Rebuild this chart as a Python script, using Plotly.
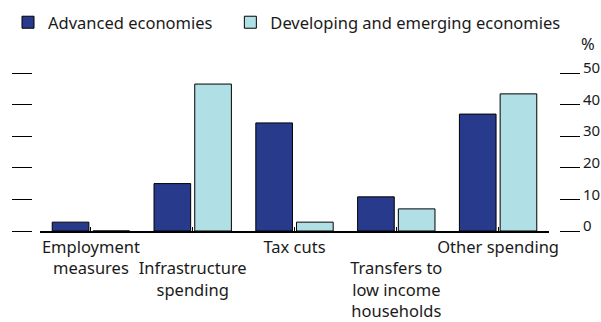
import plotly.graph_objects as go

categories = ["Employment<br>measures", "<br>Infrastructure<br>spending", "Tax cuts",
              "<br>Transfers to<br>low income<br>households", "Other spending"]
series_names = ["Advanced economies", "Developing and emerging economies"]
advanced = [2.8, 15.0, 34.2, 10.8, 37.0]
developing = [0.0, 46.5, 2.8, 7.0, 43.4]
ytick_vals = [0, 10, 20, 30, 40, 50]
ytick_text = ["0", "10", "20", "30", "40", "50"]

FONT = "Noto Sans"
FS = 16.5
W, H = 601, 322
ML, MR, MT, MB = 32, 42, 73, 91
PW = W - ML - MR
PH = H - MT - MB

fig = go.Figure()
fig.add_trace(go.Bar(x=list(range(len(categories))), y=advanced,
                     name=series_names[0] + "\u00a0\u00a0\u00a0",
                     marker=dict(color="#283a8c", line=dict(color="black", width=1))))
fig.add_trace(go.Bar(x=list(range(len(categories))), y=developing, name=series_names[1],
                     marker=dict(color="#b0e0e6", line=dict(color="black", width=1))))
fig.add_trace(go.Scatter(x=[None], y=[None], yaxis="y2", showlegend=False, hoverinfo="skip"))

fig.update_layout(
    width=W, height=H,
    margin=dict(l=ML, r=MR, t=MT, b=MB, pad=0, autoexpand=False),
    paper_bgcolor="white", plot_bgcolor="white",
    font=dict(family=FONT, size=FS, color="#1a1a1a"),
    barmode="group", bargap=0.2, bargroupgap=0.1,
    showlegend=True,
    legend=dict(orientation="h", x=(8 - ML) / PW, xanchor="left",
                y=(231 - 5) / PH, yanchor="top",
                font=dict(size=FS), bgcolor="rgba(0,0,0,0)", traceorder="normal"),
    xaxis=dict(domain=[8 / PW, 517 / PW], range=[-0.5, 4.5], automargin=False,
               tickmode="array", tickvals=list(range(len(categories))), ticktext=categories,
               tickangle=0,
               showline=True, linecolor="black", linewidth=2,
               ticks="inside", tickson="boundaries", ticklen=4, tickcolor="black", tickwidth=1,
               showgrid=False, zeroline=False, tickfont=dict(size=FS)),
    yaxis=dict(range=[0, 50], anchor="free", position=0, side="left", automargin=False,
               tickmode="array", tickvals=ytick_vals, showticklabels=False,
               ticks="outside", ticklen=20, tickcolor="black", tickwidth=1,
               showgrid=False, zeroline=False, showline=False),
    yaxis2=dict(range=[0, 50], overlaying="y", anchor="free", position=1, side="right",
                automargin=False,
                tickmode="array", tickvals=ytick_vals, ticktext=ytick_text,
                ticks="outside", ticklen=20, tickcolor="black", tickwidth=1,
                ticklabelshift=-5, ticklabelstandoff=0,
                showgrid=False, zeroline=False, showline=False, tickfont=dict(size=15)),
    annotations=[dict(text="%", xref="paper", yref="paper", x=(588 - ML) / PW, y=(231 - 43) / PH,
                      showarrow=False, font=dict(size=FS), xanchor="center", yanchor="middle")],
)

fig.write_html("out.html", config={"displayModeBar": False},
               post_script="document.body.style.margin='0';document.body.style.padding='0';")
